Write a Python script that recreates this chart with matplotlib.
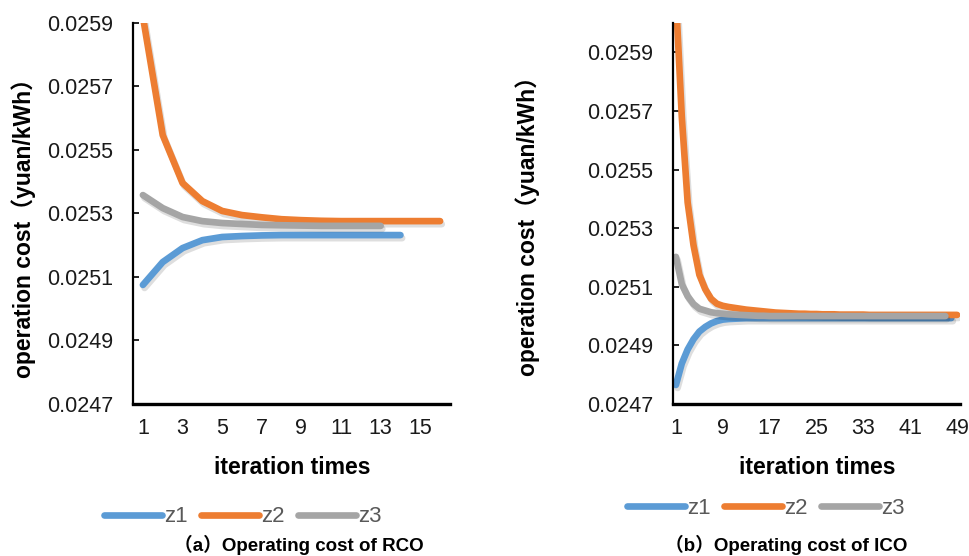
import matplotlib
matplotlib.use("Agg")
import matplotlib.pyplot as plt
import matplotlib.patheffects as pe
from matplotlib.lines import Line2D

# ---------------- data ----------------
series_names = ["z1", "z2", "z3"]
colors = ["#5B9BD5", "#ED7D31", "#A5A5A5"]

# (a) RCO
rco_z1 = [0.025075, 0.025147, 0.025191, 0.025216, 0.025226, 0.025229, 0.025231,
          0.025232, 0.025232, 0.025232, 0.025232, 0.025232, 0.025232, 0.025232]
rco_z2 = [0.02592, 0.025547, 0.025396, 0.025339, 0.025308, 0.025295, 0.025288,
          0.025282, 0.025279, 0.025277, 0.025276, 0.025276, 0.025276, 0.025276,
          0.025276, 0.025276]
rco_z3 = [0.025358, 0.025317, 0.025289, 0.025276, 0.025270, 0.025267, 0.025264,
          0.025263, 0.025262, 0.025261, 0.025261, 0.025261, 0.025261]
rco_xticks = [1, 3, 5, 7, 9, 11, 13, 15]
rco_yticks = [0.0247, 0.0249, 0.0251, 0.0253, 0.0255, 0.0257, 0.0259]

# (b) ICO
ico_z1 = [0.024765, 0.024838, 0.024886, 0.024921, 0.024947, 0.024963, 0.024975,
          0.024983, 0.024988, 0.024990, 0.024991, 0.024992, 0.024993, 0.024993,
          0.024993, 0.024993, 0.024993, 0.024993, 0.024993, 0.024993, 0.024993,
          0.024993, 0.024993, 0.024993, 0.024993, 0.024993, 0.024993, 0.024993,
          0.024993, 0.024993, 0.024993, 0.024993, 0.024993, 0.024993, 0.024993,
          0.024993, 0.024993, 0.024993, 0.024993, 0.024993, 0.024993, 0.024993,
          0.024993, 0.024993, 0.024993, 0.024993, 0.024993, 0.024993]
ico_z2 = [0.026087, 0.025681, 0.025388, 0.025242, 0.025141, 0.025092, 0.025059,
          0.025042, 0.025035, 0.025031, 0.025028, 0.025025, 0.025022, 0.025020,
          0.025018, 0.025016, 0.025014, 0.025012, 0.025011, 0.025010, 0.025009,
          0.025008, 0.025008, 0.025007, 0.025007, 0.025006, 0.025006, 0.025006,
          0.025005, 0.025005, 0.025005, 0.025005, 0.025005, 0.025004, 0.025004,
          0.025004, 0.025004, 0.025004, 0.025004, 0.025004, 0.025004, 0.025004,
          0.025004, 0.025004, 0.025004, 0.025004, 0.025004, 0.025004, 0.025004]
ico_z3 = [0.025202, 0.025109, 0.025068, 0.025041, 0.025025, 0.025019, 0.025013,
          0.025010, 0.025008, 0.025006, 0.025005, 0.025004, 0.025003, 0.025002,
          0.025001, 0.025001, 0.025000, 0.025000, 0.025000, 0.025000, 0.025000,
          0.025000, 0.025000, 0.025000, 0.025000, 0.025000, 0.025000, 0.025000,
          0.025000, 0.025000, 0.025000, 0.025000, 0.025000, 0.025000, 0.025000,
          0.025000, 0.025000, 0.025000, 0.025000, 0.025000, 0.025000, 0.025000,
          0.025000, 0.025000, 0.025000, 0.025000, 0.025000]
ico_xticks = [1, 9, 17, 25, 33, 41, 49]
ico_yticks = [0.0247, 0.0249, 0.0251, 0.0253, 0.0255, 0.0257, 0.0259]

y_label = "operation cost（yuan/kWh）"
x_label = "iteration times"
captions = ["（a）Operating cost of RCO", "（b）Operating cost of ICO"]

# ---------------- style ----------------
FONT = ["Liberation Sans", "Noto Sans CJK SC", "DejaVu Sans"]
plt.rcParams["font.family"] = FONT
W, H = 970, 556
fig = plt.figure(figsize=(W / 100, H / 100), dpi=100)

def fx(px):
    return px / W

def fy(py):
    return 1 - py / H

panels = [
    dict(rect=(133, 23, 450, 404), data=[rco_z1, rco_z2, rco_z3], xticks=rco_xticks,
         yticks=rco_yticks, ylim=(0.0247, 0.0259), n=16,
         ylab_x=24, ylab_y=222, xlab=(292, 467), leg=(243, 517), cap=(299, 545)),
    dict(rect=(673, 23, 960, 404), data=[ico_z1, ico_z2, ico_z3], xticks=ico_xticks,
         yticks=ico_yticks, ylim=(0.0247, 0.0260), n=49,
         ylab_x=528, ylab_y=221, xlab=(817, 467), leg=(766, 508), cap=(786, 545)),
]

shadow = [pe.SimpleLineShadow(offset=(1.2, -2.2), shadow_color="#000000", alpha=0.13),
          pe.Normal()]

for p in panels:
    l, t, r, b = p["rect"]
    ax = fig.add_axes([fx(l), fy(b), fx(r - l), (b - t) / H])
    for vals, c in zip(p["data"], colors):
        xs = list(range(1, len(vals) + 1))
        ax.plot(xs, vals, color=c, lw=4.8, solid_capstyle="round",
                solid_joinstyle="round", path_effects=shadow)
    ax.set_xlim(0.5, p["n"] + 0.5)
    ax.set_ylim(*p["ylim"])
    ax.set_xticks(p["xticks"])
    ax.set_yticks(p["yticks"])
    ax.set_yticklabels([f"{v:.4f}" for v in p["yticks"]])
    for s in ["top", "right"]:
        ax.spines[s].set_visible(False)
    ax.spines["left"].set_linewidth(1.6)
    ax.spines["bottom"].set_linewidth(2.4)
    ax.tick_params(axis="y", direction="in", length=4.5, width=1.2, pad=14,
                   labelsize=15.5, labelcolor="#1a1a1a")
    ax.tick_params(axis="x", length=0, pad=10, labelsize=15.5, labelcolor="#1a1a1a")

    fig.text(fx(p["ylab_x"]), fy(p["ylab_y"]), y_label, rotation=90,
             ha="center", va="center", fontsize=16.5, fontweight="bold")
    fig.text(fx(p["xlab"][0]), fy(p["xlab"][1]), x_label, ha="center",
             va="center", fontsize=16.6, fontweight="bold")

    handles = [Line2D([], [], color=c, lw=4.8, solid_capstyle="round") for c in colors]
    fig.legend(handles, series_names, loc="center", ncol=3, frameon=False,
               bbox_to_anchor=(fx(p["leg"][0]), fy(p["leg"][1])),
               fontsize=16, labelcolor="#595959", handlelength=2.6,
               handletextpad=0.1, columnspacing=0.6)

for p, cap in zip(panels, captions):
    fig.text(fx(p["cap"][0]), fy(p["cap"][1]), cap, ha="center", va="center",
             fontsize=13.5, fontweight="bold")

fig.savefig("out.png", dpi=100)
